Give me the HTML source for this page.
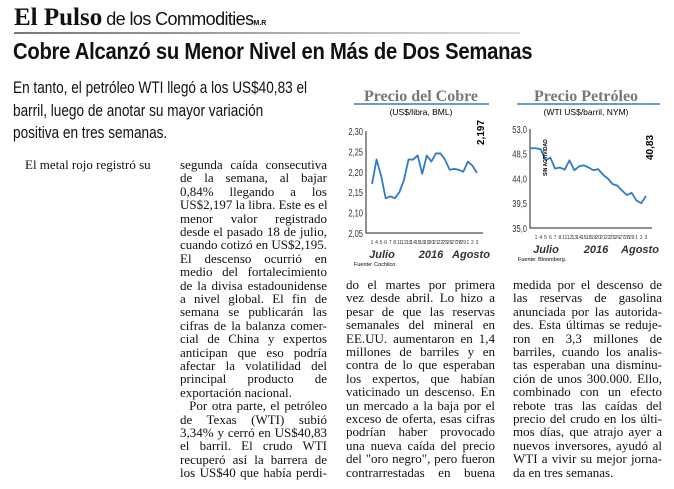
<!DOCTYPE html>
<html><head><meta charset="utf-8">
<style>
body{margin:0;width:674px;height:489px;background:#fff;position:relative;overflow:hidden;font-family:"Liberation Serif",serif;color:#111}
.ln{position:absolute;height:13.4px;line-height:13.4px;font-size:13px;text-align:justify;text-align-last:justify;white-space:nowrap}
.end{text-align-last:left}
</style></head><body>
<div style="position:absolute;left:14px;top:4px;white-space:nowrap">
<span style="font-family:'Liberation Serif',serif;font-weight:bold;font-size:25px">El Pulso</span>
<span style="font-family:'Liberation Sans',sans-serif;font-size:18px;letter-spacing:-0.6px"> de los Commodities</span><span style="font-family:'Liberation Sans',sans-serif;font-size:7px;font-weight:bold">M.R</span>
</div>
<div style="position:absolute;left:14px;top:32px;width:506px;height:2px;background:linear-gradient(90deg,#777,#ddd)"></div>
<div style="position:absolute;left:13px;top:38px;font-family:'Liberation Sans',sans-serif;font-weight:bold;font-size:23px;transform:scaleX(0.88);transform-origin:left;white-space:nowrap;letter-spacing:-0.3px">Cobre Alcanzó su Menor Nivel en Más de Dos Semanas</div>
<div style="position:absolute;left:13px;top:77px;white-space:nowrap;font-family:'Liberation Sans',sans-serif;font-size:17px;line-height:22.5px;transform:scaleX(0.8);transform-origin:left">En tanto, el petróleo WTI llegó a los US$40,83 el<br>barril, luego de anotar su mayor variación<br>positiva en tres semanas.</div>

<div class="ln end" style="left:25px;top:158px;width:140px">El metal rojo registró su</div>

<svg id="charts" width="674" height="489" style="position:absolute;left:0;top:0"></svg>

<script>
const copperDays=["1","4","5","6","7","8","11","12","13","14","15","18","19","20","21","22","25","26","27","28","29","1","2","3"];
const copperValues=[2.17,2.23,2.19,2.135,2.14,2.135,2.15,2.18,2.23,2.23,2.24,2.195,2.24,2.225,2.245,2.245,2.23,2.205,2.207,2.205,2.20,2.225,2.215,2.197];
const copperTicks=[2.05,2.10,2.15,2.20,2.25,2.30];
const oilValues=[49.5,49.3,47.3,47.8,45.8,46.0,45.6,47.3,45.5,46.2,46.4,46.0,45.5,45.7,44.7,44.0,43.0,42.7,41.8,41.0,41.4,40.0,39.5,40.83];
const oilTicks=[35.0,39.5,44.0,48.5,53.0];

const col2=[["segunda caída consecutiva"],["de la semana, al bajar"],["0,84% llegando a los"],["US$2,197 la libra. Este es el"],["menor valor registrado"],["desde el pasado 18 de julio,"],["cuando cotizó en US$2,195."],["El descenso ocurrió en"],["medio del fortalecimiento"],["de la divisa estadounidense"],["a nivel global. El fin de"],["semana se publicarán las"],["cifras de la balanza comer-"],["cial de China y expertos"],["anticipan que eso podría"],["afectar la volatilidad del"],["principal producto de"],["exportación nacional.",1],["\u00a0\u00a0Por otra parte, el petróleo"],["de Texas (WTI) subió"],["3,34% y cerró en US$40,83"],["el barril. El crudo WTI"],["recuperó así la barrera de"],["los US$40 que había perdi-"]];
const col3=["do el martes por primera","vez desde abril. Lo hizo a","pesar de que las reservas","semanales del mineral en","EE.UU. aumentaron en 1,4","millones de barriles y en","contra de lo que esperaban","los expertos, que habían","vaticinado un descenso. En","un mercado a la baja por el","exceso de oferta, esas cifras","podrían haber provocado","una nueva caída del precio","del \"oro negro\", pero fueron","contrarrestadas en buena"];
const col4=["medida por el descenso de","las reservas de gasolina","anunciada por las autorida-","des. Esta últimas se reduje-","ron en 3,3 millones de","barriles, cuando los analis-","tas esperaban una disminu-","ción de unos 300.000. Ello,","combinado con un efecto","rebote tras las caídas del","precio del crudo en los últi-","mos días, que atrajo ayer a","nuevos inversores, ayudó al","WTI a vivir su mejor jorna-","da en tres semanas."];

function addLines(arr,left,top,width,name){
  arr.forEach((l,i)=>{
    const t=Array.isArray(l)?l[0]:l;
    const d=document.createElement('div');
    d.className='ln'+((Array.isArray(l)&&l[1])||i===arr.length-1&&name==='body-col4'?' end':'');
    d.style.left=left+'px';d.style.top=(top+i*13.4)+'px';d.style.width=width+'px';
    d.textContent=t;
    
    
    document.body.appendChild(d);
  });
}
addLines(col2,180,158,147,'body-col2');
addLines(col3,346,278,149,'body-col3');
addLines(col4,513,278,149,'body-col4');

const NS='http://www.w3.org/2000/svg';
const svg=document.getElementById('charts');
function el(tag,attrs,txt){const e=document.createElementNS(NS,tag);for(const k in attrs)e.setAttribute(k,attrs[k]);if(txt!==undefined)e.textContent=txt;svg.appendChild(e);return e;}

function chart(o){
  const n=o.values.length;
  const x=i=>o.x0+6+i*(o.x1-o.x0-12)/(n-1);
  const y=v=>o.yb-(v-o.min)/(o.max-o.min)*(o.yb-o.yt);
  let t=el('text',{x:o.cx,y:101,'text-anchor':'middle','font-family':'Liberation Serif,serif','font-weight':'bold','font-size':'16','fill':'#777'},o.title);
  
  
  let r=el('line',{x1:o.rx0,x2:o.rx1,y1:104,y2:104,stroke:'#3a7cc0','stroke-width':1.5});
  
  
  t=el('text',{x:o.cx,y:115,'text-anchor':'middle','font-family':'Liberation Sans,sans-serif','font-size':'8.5'},o.sub);
  
  
  let a=el('path',{d:`M${o.x0},${o.yt} V${o.yb} H${o.x1}`,fill:'none',stroke:'#222','stroke-width':1});
  
  
  o.ticks.forEach(v=>{
    const lab=o.dec===2?v.toFixed(2).replace('.',','):v.toFixed(1).replace('.',',');
    const tt=el('text',{x:o.x0-3,y:y(v)+4,'text-anchor':'end','font-family':'Liberation Sans,sans-serif','font-size':'10.5','fill':'#333',transform:`translate(${o.x0-3},0) scale(0.72,1) translate(${-(o.x0-3)},0)`},lab);
    
    
  });
  copperDays.forEach((d,i)=>{
    const tt=el('text',{x:x(i),y:o.yb+11,'text-anchor':'middle','font-family':'Liberation Sans,sans-serif','font-size':'5','fill':'#333'},d);
    
    
  });
  [["Julio",o.x0+16],["2016",o.cx+10],["Agosto",o.x1-12]].forEach(([s,px])=>{
    const tt=el('text',{x:px,y:o.yb+25,'text-anchor':'middle','font-family':'Liberation Sans,sans-serif','font-weight':'bold','font-style':'italic','font-size':'11','fill':'#333'},s);
    
    
  });
  t=el('text',{x:o.x0-12,y:o.yb+33,'font-family':'Liberation Sans,sans-serif','font-size':'5.5'},o.src);
  
  
  let d=(o.startFlat?`M${o.x0},${y(o.values[0])} L`:'M')+o.values.map((v,i)=>`${x(i)},${y(v)}`).join(' L');
  const p=el('path',{d:d,fill:'none',stroke:'#2f7bc4','stroke-width':1.8,'stroke-linejoin':'round'});
  
  
  const last=o.values[n-1];
  const lx=o.x1+1, ly=o.lastY;
  t=el('text',{x:lx,y:ly,'font-family':'Liberation Sans,sans-serif','font-weight':'bold','font-size':'10',transform:`rotate(-90 ${lx} ${ly})`},o.dec===2?last.toFixed(3).replace('.',','):last.toFixed(2).replace('.',','));
  
  
}
chart({id:'copper',title:'Precio del Cobre',sub:'(US$/libra, BML)',cx:421,rx0:354,rx1:489,x0:366,x1:483,yt:131,yb:233,min:2.05,max:2.30,values:copperValues,ticks:copperTicks,dec:2,src:'Fuente: Cochilco.',lastY:145});
chart({id:'oil',title:'Precio Petróleo',sub:'(WTI US$/barril, NYM)',cx:586,rx0:517,rx1:660,x0:530,x1:652,yt:129,yb:228,min:35,max:53,values:oilValues,ticks:oilTicks,dec:1,src:'Fuente: Bloomberg.',lastY:160,startFlat:true});
const sa=el('text',{x:547,y:176,'font-family':'Liberation Sans,sans-serif','font-size':'5','font-weight':'bold',transform:'rotate(-90 547 176)'},'SIN ACTIVIDAD');


</script>
</body></html>
